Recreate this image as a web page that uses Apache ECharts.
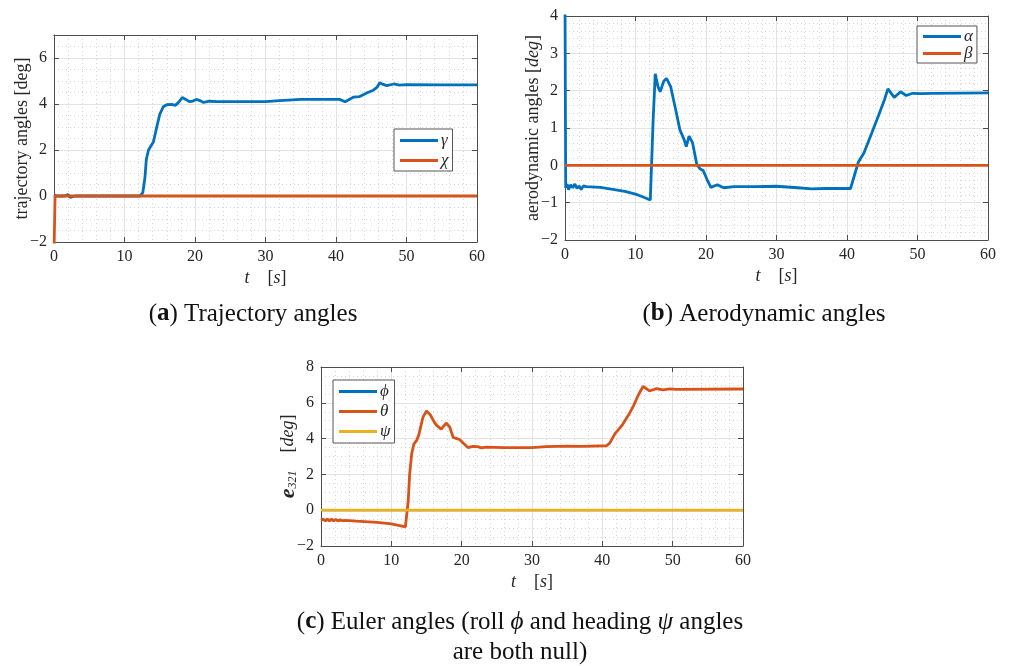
<!DOCTYPE html>
<html>
<head>
<meta charset="utf-8">
<title>Trajectory, aerodynamic and Euler angles</title>
<script src="https://cdn.jsdelivr.net/npm/echarts@6/dist/echarts.min.js"></script>
<style>
  html, body { margin: 0; padding: 0; background: #fff; }
  #main { width: 1009px; height: 666px; }
</style>
</head>
<body>
<div id="main"></div>
<script>
// (a) trajectory angles
const tGamma = [0, 0.1, 0.3, 0.6, 1.5, 2.0, 2.3, 3, 12.2, 12.6, 12.9, 13.1, 13.4, 14.1, 14.5, 15.0, 15.5, 16.0, 16.7, 16.9,
  17.2, 17.6, 18.2, 18.7, 19.2, 19.7, 20.2, 20.7, 21.2, 22.1, 23.1, 25, 28, 30, 32, 35, 38, 40.5, 41.3, 42.5,
  43.3, 44.5, 45.3, 45.8, 46.2, 46.7, 47.2, 48.2, 49, 50, 55, 60];
const gamma = [0.05, 0.12, 0.0, 0.0, 0.0, 0.06, -0.06, 0, 0, 0.15, 0.8, 1.6, 2.0, 2.35, 2.9, 3.55, 3.88, 3.97, 3.98, 4.05,
  3.94, 4.05, 4.28, 4.2, 4.1, 4.13, 4.2, 4.15, 4.07, 4.12, 4.1, 4.1, 4.1, 4.1, 4.15, 4.2, 4.2, 4.2, 4.1, 4.3,
  4.32, 4.5, 4.6, 4.72, 4.92, 4.85, 4.8, 4.87, 4.82, 4.84, 4.83, 4.83];
const tChi = [0, 0.15, 60];
const chi = [-2.5, 0, 0];

// (b) aerodynamic angles
const tAlpha = [0, 0.1, 0.3, 0.5, 0.8, 1.1, 1.4, 1.7, 2.0, 2.3, 2.6, 3, 5, 7, 8.5, 10, 11, 12.1,
  12.5, 12.8, 13.2, 13.5, 14.0, 14.4, 15.0, 15.7, 16.3, 16.9, 17.2, 17.6, 18.1, 18.7, 19.2, 19.6, 20.2, 20.7, 21.6, 22.5,
  24, 27, 30, 33, 35, 37, 40.5, 41.6, 42.4, 43.5, 44.5, 45.3, 45.8, 46.7, 47.6, 48.4, 49.3, 50.5, 52, 60];
const alpha = [4.5, -0.6, -0.5, -0.65, -0.52, -0.6, -0.5, -0.62, -0.55, -0.65, -0.55, -0.57, -0.59, -0.65, -0.7, -0.77, -0.84, -0.93,
  1.2, 2.45, 2.1, 1.97, 2.25, 2.33, 2.1, 1.49, 0.95, 0.69, 0.5, 0.78, 0.6, 0.02, -0.1, -0.14, -0.4, -0.59, -0.52, -0.6,
  -0.57, -0.57, -0.56, -0.6, -0.63, -0.62, -0.62, 0.08, 0.33, 0.86, 1.35, 1.75, 2.05, 1.82, 1.97, 1.87, 1.93, 1.92, 1.93, 1.94];
const tBeta = [0, 60];
const beta = [0, 0];

// (c) euler angles
const tTheta = [0, 0.3, 0.6, 0.9, 1.2, 1.5, 1.8, 2.1, 2.4, 2.7, 3.0, 3.5, 5, 8, 10, 12.0,
  12.4, 12.6, 12.9, 13.2, 13.6, 13.9, 14.5, 15.0, 15.5, 16.0, 16.4, 17.1, 17.8, 18.3, 18.8, 19.3, 19.7, 20.2, 20.9, 21.6,
  22.3, 22.8, 23.5, 26, 30, 32, 35, 37, 40.6, 41.05, 41.8, 42.5, 42.9, 43.7, 44.4, 45.1, 45.8, 46.7, 47.7,
  48.6, 49.6, 50.5, 60];
const theta = [-0.55, -0.5, -0.6, -0.5, -0.6, -0.5, -0.6, -0.52, -0.6, -0.53, -0.58, -0.57, -0.61, -0.68, -0.77, -0.93,
  0.5, 2.0, 3.17, 3.69, 3.9, 4.2, 5.2, 5.54, 5.35, 5.0, 4.75, 4.53, 4.87, 4.65, 4.06, 4.0, 3.95, 3.75, 3.5, 3.57,
  3.55, 3.48, 3.52, 3.5, 3.5, 3.55, 3.58, 3.57, 3.6, 3.75, 4.28, 4.6, 4.8, 5.3, 5.8, 6.42, 6.92, 6.66, 6.79,
  6.72, 6.78, 6.75, 6.77];
const tPhi = [0, 60];
const phi = [0, 0];
const tPsi = [0, 60];
const psi = [0, 0];

const BLUE = '#0072BD', ORANGE = '#D95319', YELLOW = '#EDB120';
const SERIF = '"Liberation Serif", "DejaVu Serif", serif';
const AXIS_C = '#4d4d4d';

const pairs = (xs, ys) => xs.map((x, i) => [x, ys[i]]);
const fmt = v => (v < 0 ? '\u2212' + Math.abs(v) : String(v));

// one grid gets 4 axes: bottom/left with labels, top/right just for the box ticks
function makeAxes(gi, yMin, yMax, yInt, yMinor, yName, yGap, hideMax) {
  const common = {
    gridIndex: gi,
    axisLine: { show: true, onZero: false, lineStyle: { color: AXIS_C, width: 1 } },
    axisTick: { show: true, inside: true, length: 5, lineStyle: { color: AXIS_C } }
  };
  const xb = Object.assign({}, common, {
    type: 'value', position: 'bottom', min: 0, max: 60, interval: 10,
    axisLabel: { color: '#262626', fontFamily: SERIF, fontSize: 16, margin: 7 },
    splitLine: { show: true, lineStyle: { color: '#e3e3e3', width: 1 } },
    minorTick: { show: false, splitNumber: 5 },
    minorSplitLine: { show: true, lineStyle: { color: '#d6d6d6', type: [1, 3], width: 1 } },
    name: '{i|t}    [{i|s}]', nameLocation: 'middle', nameGap: 27, nameMoveOverlap: false,
    nameTextStyle: {
      color: '#262626', fontFamily: SERIF, fontSize: 18,
      rich: { i: { fontStyle: 'italic', fontFamily: SERIF, fontSize: 18, color: '#262626' } }
    }
  });
  const xt = Object.assign({}, common, {
    type: 'value', position: 'top', min: 0, max: 60, interval: 10,
    axisLabel: { show: false }, splitLine: { show: false }
  });
  const yl = Object.assign({}, common, {
    type: 'value', position: 'left', min: yMin, max: yMax, interval: yInt,
    axisLabel: { color: '#262626', fontFamily: SERIF, fontSize: 16, margin: 7, formatter: fmt, showMaxLabel: !hideMax },
    splitLine: { show: true, lineStyle: { color: '#e3e3e3', width: 1 } },
    minorTick: { show: false, splitNumber: yMinor },
    minorSplitLine: { show: true, lineStyle: { color: '#d6d6d6', type: [1, 3], width: 1 } },
    name: yName, nameLocation: 'middle', nameGap: yGap, nameRotate: 90, nameMoveOverlap: false,
    nameTextStyle: {
      color: '#262626', fontFamily: SERIF, fontSize: 18,
      rich: {
        i: { fontStyle: 'italic', fontFamily: SERIF, fontSize: 18, color: '#262626' },
        b: { fontStyle: 'italic', fontWeight: 'bold', fontFamily: SERIF, fontSize: 22, color: '#262626' },
        s: { fontStyle: 'italic', fontFamily: SERIF, fontSize: 12, color: '#262626', verticalAlign: 'bottom', padding: [8, 0, 0, 0] }
      }
    }
  });
  const yr = Object.assign({}, common, {
    type: 'value', position: 'right', min: yMin, max: yMax, interval: yInt,
    axisLabel: { show: false }, splitLine: { show: false }
  });
  return { x: [xb, xt], y: [yl, yr] };
}

const axA = makeAxes(0, -2, 7, 2, 4, 'trajectory angles [deg]', 23, true);
const axB = makeAxes(1, -2, 4, 1, 5, 'aerodynamic angles [{i|deg}]', 23, false);
const axC = makeAxes(2, -2, 8, 2, 4, '{b|e}{s|321}    [{i|deg}]', 22, false);

function line(name, xs, ys, color, xi, yi, w) {
  return {
    name: name, type: 'line', xAxisIndex: xi, yAxisIndex: yi,
    data: pairs(xs, ys), showSymbol: false, symbol: 'none',
    lineStyle: { color: color, width: w || 2.8 }, itemStyle: { color: color },
    clip: true, animation: false
  };
}

function legend(names, left, top, gap, pad) {
  return {
    data: names.map(n => ({ name: n, icon: 'rect' })),
    orient: 'vertical', left: left, top: top,
    itemWidth: 38, itemHeight: 3, itemGap: gap,
    padding: pad,
    borderColor: '#555', borderWidth: 1, backgroundColor: '#fff',
    selectedMode: false,
    textStyle: { fontFamily: SERIF, fontStyle: 'italic', fontSize: 17, color: '#262626', padding: [0, 0, 0, -2] }
  };
}

const capRich = {
  b: { fontWeight: 'bold', fontFamily: SERIF, fontSize: 25, color: '#111' },
  i: { fontStyle: 'italic', fontFamily: SERIF, fontSize: 25, color: '#111' }
};
function caption(text, x, y) {
  return {
    text: text, left: x, top: y, textAlign: 'center',
    textStyle: { fontFamily: SERIF, fontWeight: 'normal', fontSize: 25, color: '#111', lineHeight: 30, rich: capRich }
  };
}

const chart = echarts.init(document.getElementById('main'));
chart.setOption({
  animation: false,
  backgroundColor: '#fff',
  title: [
    caption('({b|a}) Trajectory angles', 248, 294),
    caption('({b|b}) Aerodynamic angles', 759, 294),
    caption('({b|c}) Euler angles (roll {i|ϕ} and heading {i|ψ} angles\nare both null)', 515, 602)
  ],
  grid: [
    { left: 54, top: 35, width: 423, height: 207 },
    { left: 565, top: 16, width: 423, height: 224 },
    { left: 321, top: 367, width: 422, height: 179 }
  ],
  xAxis: [...axA.x, ...axB.x, ...axC.x],
  yAxis: [...axA.y, ...axB.y, ...axC.y],
  legend: [
    legend(['γ', 'χ'], 394, 129, 3, [3, 4, 2, 6]),
    legend(['α', 'β'], 917, 26, 0, [2, 4, 1, 6]),
    legend(['ϕ', 'θ', 'ψ'], 333, 380, 3, [3, 4, 3, 6])
  ],
  series: [
    line('γ', tGamma, gamma, BLUE, 0, 0),
    line('χ', tChi, chi, ORANGE, 0, 0),
    line('α', tAlpha, alpha, BLUE, 2, 2),
    line('β', tBeta, beta, ORANGE, 2, 2),
    line('ϕ', tPhi, phi, BLUE, 4, 4, 2.2),
    line('θ', tTheta, theta, ORANGE, 4, 4),
    line('ψ', tPsi, psi, YELLOW, 4, 4)
  ]
});
</script>
</body>
</html>
